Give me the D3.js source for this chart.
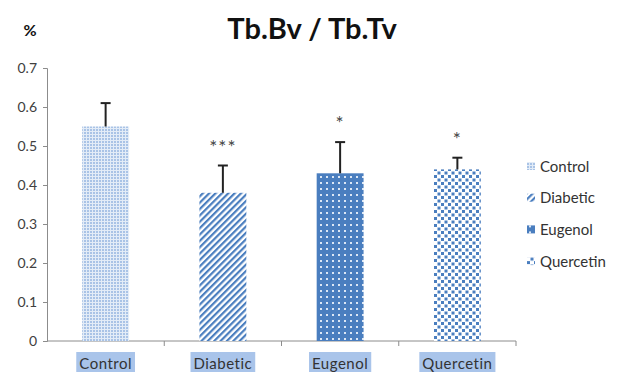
<!DOCTYPE html>
<html>
<head>
<meta charset="utf-8">
<script src="https://cdn.jsdelivr.net/npm/d3@7/dist/d3.min.js"></script>
<style>
	body { margin: 0; background: #fff; }
	svg { display: block; font-family: Lato, "Open Sans", sans-serif; }
</style>
</head>
<body>
<svg id="chart" width="631" height="372"></svg>
<script>
var categories = ["Control", "Diabetic", "Eugenol", "Quercetin"];
var values = [0.55, 0.38, 0.43, 0.44];
var errors = [0.06, 0.07, 0.08, 0.03];
var stars = ["", "***", "*", "*"];
var yTicks = [0, 0.1, 0.2, 0.3, 0.4, 0.5, 0.6, 0.7];
var patternIds = ["pControl", "pDiabetic", "pEugenol", "pQuercetin"];

var svg = d3.select("#chart");
var blue = "#4a7ebf";

// patterns for the bars
var defs = svg.append("defs");

var p = defs.append("pattern").attr("id", "pControl")
	.attr("width", 3).attr("height", 3).attr("patternUnits", "userSpaceOnUse");
p.append("rect").attr("width", 3).attr("height", 3).attr("fill", "#e3ecf7");
p.append("rect").attr("width", 2).attr("height", 2).attr("fill", "#a9c3e6");

p = defs.append("pattern").attr("id", "pDiabetic")
	.attr("width", 4.5).attr("height", 4.5).attr("patternUnits", "userSpaceOnUse")
	.attr("patternTransform", "rotate(45)");
p.append("rect").attr("width", 4.5).attr("height", 4.5).attr("fill", "#fff");
p.append("rect").attr("width", 2.2).attr("height", 4.5).attr("fill", blue);

p = defs.append("pattern").attr("id", "pEugenol")
	.attr("width", 6).attr("height", 6).attr("patternUnits", "userSpaceOnUse");
p.append("rect").attr("width", 6).attr("height", 6).attr("fill", blue);
p.append("rect").attr("x", 2).attr("y", 2).attr("width", 2).attr("height", 2).attr("fill", "#dce7f5");

p = defs.append("pattern").attr("id", "pQuercetin")
	.attr("width", 7).attr("height", 7).attr("patternUnits", "userSpaceOnUse");
p.append("rect").attr("width", 7).attr("height", 7).attr("fill", "#fff");
p.append("rect").attr("x", 0).attr("y", 0).attr("width", 3).attr("height", 3).attr("fill", blue);
p.append("rect").attr("x", 3.5).attr("y", 3.5).attr("width", 3).attr("height", 3).attr("fill", blue);

// scales
var x = d3.scaleBand().domain(categories).range([47, 516]).paddingInner(0.6).paddingOuter(0.3);
var y = d3.scaleLinear().domain([0, 0.7]).range([341, 68]);
var xb = d3.scaleBand().domain(categories).range([47, 516]);

// titles
svg.append("text").attr("x", 312).attr("y", 39).attr("text-anchor", "middle")
	.attr("font-size", 29).attr("font-weight", "bold").attr("fill", "#111")
	.text("Tb.Bv / Tb.Tv");
svg.append("text").attr("x", 30).attr("y", 36).attr("text-anchor", "middle")
	.attr("font-size", 16).attr("font-weight", "bold").attr("fill", "#111")
	.text("%");

// y axis
var yAxis = svg.append("g").attr("transform", "translate(47,0)")
	.call(d3.axisLeft(y).tickValues(yTicks).tickSize(4).tickPadding(6)
		.tickFormat(function(d) { return d === 0 ? "0" : d3.format(".1f")(d); }));
yAxis.selectAll("path, line").attr("stroke", "#8c8c8c");
yAxis.selectAll("text").attr("font-size", 14).attr("fill", "#404040")
	.attr("font-family", "Lato, sans-serif");

// x axis line + ticks
svg.append("line").attr("x1", 47).attr("x2", 516).attr("y1", 341).attr("y2", 341)
	.attr("stroke", "#8c8c8c");
svg.selectAll(".xtick").data(categories).enter().append("line")
	.attr("class", "xtick")
	.attr("x1", function(d) { return xb(d) + xb.bandwidth(); })
	.attr("x2", function(d) { return xb(d) + xb.bandwidth(); })
	.attr("y1", 341).attr("y2", 346).attr("stroke", "#8c8c8c");

// bars
svg.selectAll(".bar").data(categories).enter().append("rect")
	.attr("class", "bar")
	.attr("x", function(d) { return x(d); })
	.attr("width", x.bandwidth())
	.attr("y", function(d, i) { return y(values[i]); })
	.attr("height", function(d, i) { return y(0) - y(values[i]); })
	.attr("fill", function(d, i) { return "url(#" + patternIds[i] + ")"; });

// error bars
var cx = function(d) { return x(d) + x.bandwidth() / 2; };
svg.selectAll(".err").data(categories).enter().append("line")
	.attr("x1", cx).attr("x2", cx)
	.attr("y1", function(d, i) { return y(values[i]); })
	.attr("y2", function(d, i) { return y(values[i] + errors[i]); })
	.attr("stroke", "#222").attr("stroke-width", 2);
svg.selectAll(".cap").data(categories).enter().append("line")
	.attr("x1", function(d) { return cx(d) - 5; })
	.attr("x2", function(d) { return cx(d) + 5; })
	.attr("y1", function(d, i) { return y(values[i] + errors[i]); })
	.attr("y2", function(d, i) { return y(values[i] + errors[i]); })
	.attr("stroke", "#222").attr("stroke-width", 2);

// significance stars
svg.selectAll(".star").data(categories).enter().append("text")
	.attr("x", cx)
	.attr("y", function(d, i) { return y(values[i] + errors[i]) - 12; })
	.attr("text-anchor", "middle").attr("font-size", 19).attr("fill", "#444")
	.attr("letter-spacing", 1)
	.text(function(d, i) { return stars[i]; });

// x labels with highlight
var lab = svg.selectAll(".xlab").data(categories).enter().append("g")
	.attr("transform", function(d) { return "translate(" + cx(d) + ",0)"; });
lab.append("text").attr("y", 369).attr("text-anchor", "middle")
	.attr("font-size", 15).attr("fill", "#333").attr("letter-spacing", 0.5)
	.text(function(d) { return d; })
	.each(function() {
		var bb = this.getBBox();
		d3.select(this.parentNode).insert("rect", "text")
			.attr("x", bb.x - 3).attr("width", bb.width + 6)
			.attr("y", 352).attr("height", 20).attr("fill", "#a9c4ea");
	});

// legend
var leg = svg.selectAll(".leg").data(categories).enter().append("g")
	.attr("transform", function(d, i) { return "translate(527," + (166 + i * 31.7) + ")"; });
leg.append("rect").attr("x", 0).attr("y", -4).attr("width", 8).attr("height", 8)
	.attr("fill", function(d, i) { return "url(#" + patternIds[i] + ")"; });
leg.append("text").attr("x", 13).attr("y", 5.5).attr("font-size", 15).attr("fill", "#333")
	.text(function(d) { return d; });
</script>
</body>
</html>
